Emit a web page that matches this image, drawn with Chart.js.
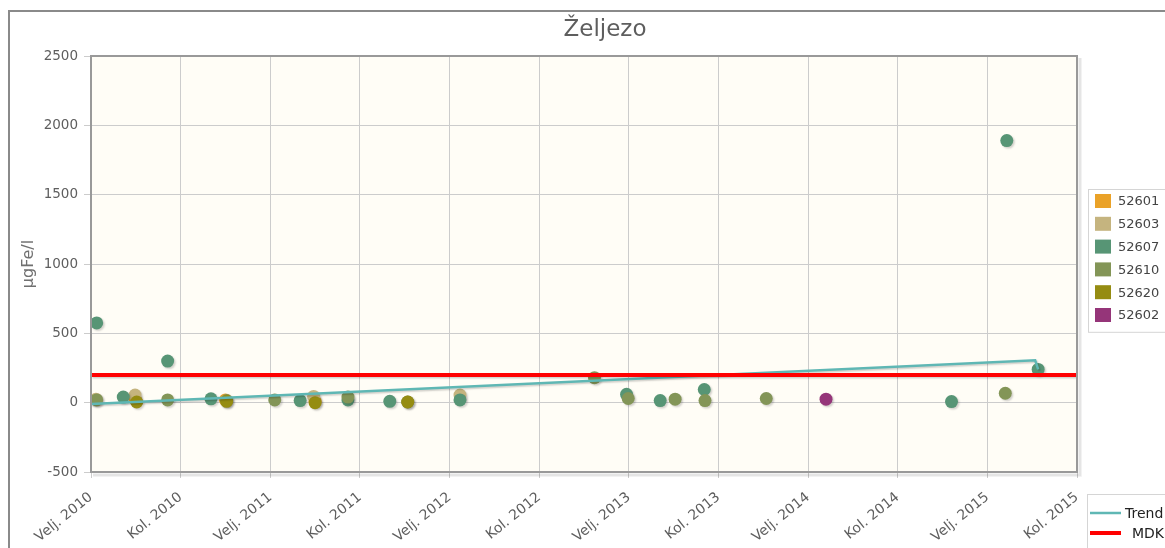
<!DOCTYPE html>
<html>
<head>
<meta charset="utf-8">
<title>Željezo</title>
<script src="https://cdn.jsdelivr.net/npm/chart.js@4/dist/chart.umd.min.js"></script>
<style>
  html, body { margin: 0; padding: 0; background: #ffffff; }
  #wrap { position: relative; width: 1165px; height: 548px; }
</style>
</head>
<body>
<div id="wrap"><canvas id="c" width="1165" height="548"></canvas></div>
<script>
// x values are months counted from Velj. 2010 (one tick every 6 months)
const tickLabels = ['Velj. 2010', 'Kol. 2010', 'Velj. 2011', 'Kol. 2011', 'Velj. 2012', 'Kol. 2012',
                    'Velj. 2013', 'Kol. 2013', 'Velj. 2014', 'Kol. 2014', 'Velj. 2015', 'Kol. 2015'];
const yTicks = [-500, 0, 500, 1000, 1500, 2000, 2500];

const stationNames = ['52601', '52603', '52607', '52610', '52620', '52602'];
const stationColors = ['#EAA228', '#c5b47f', '#579575', '#839557', '#958c12', '#953579'];

const s52601 = [[2.95, 25], [9.0, 20], [15.0, 10]];
const s52603 = [[0.33, 25], [2.95, 55], [14.9, 45], [24.7, 55]];
const s52607 = [[0.38, 575], [2.16, 40], [5.13, 300], [8.03, 28], [14.0, 15], [17.2, 20], [20.0, 10],
                [24.7, 20], [35.85, 60], [38.1, 15], [41.05, 95], [57.6, 8], [61.3, 1890], [63.4, 240]];
const s52610 = [[0.38, 20], [5.13, 20], [9.08, 15], [12.3, 20], [17.2, 40], [21.2, 5], [33.7, 180],
                [35.96, 30], [39.1, 25], [41.1, 15], [45.2, 30], [61.2, 68]];
const s52620 = [[3.06, 5], [9.08, 10], [15.0, 0], [21.2, 5]];
const s52602 = [[49.2, 25]];
const stationValues = [s52601, s52603, s52607, s52610, s52620, s52602];

const trendValues = [[0, -10], [63.2, 305], [63.4, 240]];
const mdkValues = [[0, 200], [66, 200]];
const lineNames = ['Trend', 'MDK'];
const lineColors = ['#5fb7b4', '#ff0000'];

const toXY = arr => arr.map(p => ({ x: p[0], y: p[1] }));

const datasets = [];
// threshold and trend are drawn above the markers (lower order = drawn later)
datasets.push({ label: lineNames[1], data: toXY(mdkValues), showLine: true, borderColor: lineColors[1],
                borderWidth: 4, pointRadius: 0, order: 0, isLine: true });
datasets.push({ label: lineNames[0], data: toXY(trendValues), showLine: true, borderColor: lineColors[0],
                borderWidth: 2.5, pointRadius: 0, order: 1, isLine: true });
stationNames.forEach((name, i) => {
  datasets.push({
    label: name,
    data: toXY(stationValues[i]),
    showLine: false,
    pointRadius: 6.5,
    pointHoverRadius: 6.5,
    pointBorderWidth: 0,
    pointBackgroundColor: stationColors[i],
    backgroundColor: stationColors[i],
    order: 10 - i
  });
});

const FONT = '"DejaVu Sans", Verdana, sans-serif';
const TEXT = '#5e5e5e';

const decor = {
  id: 'decor',
  beforeDraw(chart) {
    const ctx = chart.ctx, a = chart.chartArea;
    ctx.save();
    ctx.fillStyle = '#ffffff';
    ctx.fillRect(0, 0, chart.width, chart.height);
    // outer frame
    ctx.strokeStyle = '#8a8a8a';
    ctx.lineWidth = 2;
    ctx.strokeRect(9, 11, chart.width + 20, chart.height + 20);
    // plot background
    ctx.fillStyle = '#fffdf6';
    ctx.fillRect(a.left, a.top, a.right - a.left, a.bottom - a.top);
    ctx.restore();
  },
  beforeDatasetDraw(chart, args) {
    const ctx = chart.ctx;
    ctx.save();
    const ds = chart.data.datasets[args.index];
    ctx.shadowColor = 'rgba(0,0,0,0.18)';
    ctx.shadowOffsetX = 1.5;
    ctx.shadowOffsetY = 1.5;
    ctx.shadowBlur = ds.isLine ? 1.5 : 2;
  },
  afterDatasetDraw(chart) {
    chart.ctx.restore();
  },
  afterDraw(chart) {
    const ctx = chart.ctx, a = chart.chartArea;
    ctx.save();
    // plot frame with soft shadow
    for (let k = 1; k <= 3; k++) {
      ctx.strokeStyle = 'rgba(0,0,0,0.07)';
      ctx.lineWidth = 1.5;
      ctx.beginPath();
      ctx.moveTo(a.left + 2, a.bottom + 1 + k);
      ctx.lineTo(a.right + 1 + k, a.bottom + 1 + k);
      ctx.lineTo(a.right + 1 + k, a.top + 2);
      ctx.stroke();
    }
    ctx.strokeStyle = '#999999';
    ctx.lineWidth = 2;
    ctx.strokeRect(a.left, a.top, a.right - a.left, a.bottom - a.top);

    // title
    ctx.fillStyle = TEXT;
    ctx.font = '23px ' + FONT;
    ctx.textAlign = 'center';
    ctx.textBaseline = 'middle';
    ctx.fillText('Željezo', 605, 30);

    // y axis title
    ctx.save();
    ctx.translate(29, 264);
    ctx.rotate(-Math.PI / 2);
    ctx.font = '16px ' + FONT;
    ctx.fillStyle = '#707070';
    ctx.fillText('µgFe/l', 0, 0);
    ctx.restore();

    // station legend
    const lx = 1088, ly = 189, rowH = 22.8;
    ctx.fillStyle = '#ffffff';
    ctx.fillRect(lx, ly, 100, rowH * stationNames.length + 6);
    ctx.strokeStyle = '#d5d5d5';
    ctx.lineWidth = 1;
    ctx.strokeRect(lx + 0.5, ly + 0.5, 100, rowH * stationNames.length + 6);
    ctx.font = '13px ' + FONT;
    ctx.textAlign = 'left';
    stationNames.forEach((name, i) => {
      const cy = ly + 12 + i * rowH;
      ctx.fillStyle = stationColors[i];
      ctx.fillRect(lx + 7, cy - 7, 16, 14);
      ctx.fillStyle = '#444444';
      ctx.fillText(name, lx + 30, cy + 1);
    });

    // line legend
    const bx = 1087, by = 494;
    ctx.strokeStyle = '#d5d5d5';
    ctx.strokeRect(bx + 0.5, by + 0.5, 100, 60);
    lineNames.forEach((name, i) => {
      const cy = by + 19 + i * 20;
      ctx.strokeStyle = lineColors[i];
      ctx.lineWidth = i === 0 ? 2.5 : 4;
      ctx.beginPath();
      ctx.moveTo(bx + 3, cy);
      ctx.lineTo(bx + 34, cy);
      ctx.stroke();
      ctx.fillStyle = '#222222';
      ctx.font = '14px ' + FONT;
      ctx.textAlign = 'left';
      ctx.fillText(name, i === 0 ? bx + 38 : bx + 45, cy + 1);
    });
    ctx.restore();
  }
};

new Chart(document.getElementById('c'), {
  type: 'scatter',
  data: { datasets },
  plugins: [decor],
  options: {
    responsive: false,
    animation: false,
    events: [],
    layout: { padding: { left: 0, top: 56, right: 88, bottom: 0 } },
    plugins: { legend: { display: false }, tooltip: { enabled: false }, title: { display: false } },
    scales: {
      x: {
        type: 'linear',
        min: 0,
        max: 66,
        afterFit(scale) { scale.height = 76; },
        afterBuildTicks(scale) {
          scale.ticks = tickLabels.map((_, i) => ({ value: i * 6 }));
        },
        ticks: {
          autoSkip: false,
          maxRotation: 39,
          minRotation: 39,
          padding: 11,
          color: TEXT,
          font: { family: FONT, size: 14 },
          callback: v => tickLabels[Math.round(v / 6)]
        },
        grid: { color: '#cccccc', lineWidth: 1, tickLength: 6, drawTicks: true },
        border: { display: false }
      },
      y: {
        min: -500,
        max: 2500,
        afterFit(scale) { scale.width = 91; },
        afterBuildTicks(scale) {
          scale.ticks = yTicks.map(v => ({ value: v }));
        },
        ticks: {
          color: TEXT,
          padding: 6,
          font: { family: FONT, size: 13.5 },
          callback: v => String(v)
        },
        grid: { color: '#cccccc', lineWidth: 1, tickLength: 7, drawTicks: true },
        border: { display: false }
      }
    }
  }
});
</script>
</body>
</html>
